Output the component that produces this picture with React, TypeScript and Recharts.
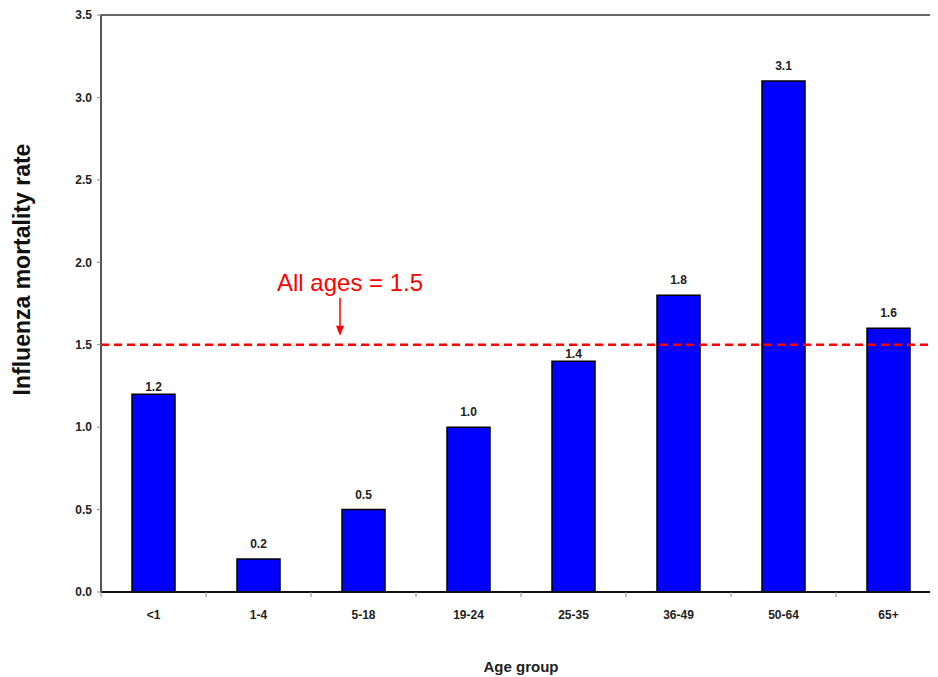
import React from 'react';
import { BarChart, Bar, XAxis, YAxis, ReferenceLine, LabelList } from 'recharts';

const ageGroups = ['<1', '1-4', '5-18', '19-24', '25-35', '36-49', '50-64', '65+'];
const mortalityRates = [1.2, 0.2, 0.5, 1.0, 1.4, 1.8, 3.1, 1.6];
const yTicks = [0, 0.5, 1, 1.5, 2, 2.5, 3, 3.5];
const allAgesRate = 1.5;
const allAgesLabel = 'All ages = 1.5';
const yAxisTitle = 'Influenza mortality rate';
const xAxisTitle = 'Age group';

// gap (px) between bar top and its value label, as seen in the original
const labelGaps = [3, 11, 11, 11, 3, 11, 11, 11];

const data = ageGroups.map((g, i) => ({ group: g, rate: mortalityRates[i] }));

const FONT = '"Liberation Sans", Arial, sans-serif';
const X_TICK_SIZE = 5;
const X_TICK_MARGIN = 13;

const XTick = (props: any) => {
  const { x, y, payload } = props;
  const off = payload && payload.offset ? payload.offset : 0;
  const axisY = y - X_TICK_SIZE - X_TICK_MARGIN;
  return (
    <g>
      <line x1={x - off} x2={x - off} y1={axisY} y2={axisY + X_TICK_SIZE} stroke="#888" strokeWidth={1} />
      <text x={x} y={y} dy="0.71em" textAnchor="middle" fontFamily={FONT} fontWeight="bold" fontSize={12} fill="#222">
        {payload.value}
      </text>
    </g>
  );
};

const ValueLabel = (props: any) => {
  const { x, y, width, value, index } = props;
  const gap = labelGaps[index] ?? 11;
  return (
    <text
      x={Number(x) + Number(width) / 2}
      y={Number(y) - gap}
      textAnchor="middle"
      fontFamily={FONT}
      fontWeight="bold"
      fontSize={12}
      fill="#222"
    >
      {Number(value).toFixed(1)}
    </text>
  );
};

const AllAgesLabel = (props: any) => {
  const vb = props.viewBox || { x: 0, y: 0 };
  const lx = vb.x;
  const ly = vb.y;
  const ax = lx + 239;
  return (
    <g>
      <text x={lx + 176} y={ly - 54} fontFamily={FONT} fontSize={24} fill="#FF0000">
        {allAgesLabel}
      </text>
      <line x1={ax} x2={ax} y1={ly - 47} y2={ly - 18} stroke="#FF0000" strokeWidth={1.5} />
      <path d={`M ${ax - 4} ${ly - 19} L ${ax + 4} ${ly - 19} L ${ax} ${ly - 9} Z`} fill="#FF0000" />
    </g>
  );
};

const YTitle = (props: any) => {
  const vb = props.viewBox || { x: 0, y: 0, height: 0 };
  const cx = vb.x + 14;
  const cy = vb.y + vb.height / 2 - 34;
  return (
    <text
      x={cx}
      y={cy}
      transform={`rotate(-90 ${cx} ${cy})`}
      textAnchor="middle"
      dominantBaseline="central"
      fontFamily={FONT}
      fontWeight="bold"
      fontSize={23}
      fill="#111"
    >
      {yAxisTitle}
    </text>
  );
};

export default function App() {
  return (
    <div style={{ width: 930, height: 669, overflow: 'hidden', background: '#fff' }}>
      <style>{'html,body{overflow:hidden}'}</style>
      <BarChart
        width={945}
        height={669}
        data={data}
        margin={{ top: 7, right: 12, bottom: 0, left: 0 }}
        barCategoryGap={0}
      >
        <XAxis
          dataKey="group"
          height={85}
          axisLine={{ stroke: '#111', strokeWidth: 2 }}
          tickLine={false}
          tickSize={X_TICK_SIZE}
          tickMargin={X_TICK_MARGIN}
          tick={<XTick />}
          interval={0}
          label={{
            value: xAxisTitle,
            position: 'insideBottom',
            offset: 5,
            style: { fontFamily: FONT, fontWeight: 'bold', fontSize: 15, fill: '#222' },
          }}
        />
        <YAxis
          width={93}
          domain={[0, 3.5]}
          ticks={yTicks}
          interval={0}
          tickFormatter={(v: number) => v.toFixed(1)}
          axisLine={{ stroke: '#555', strokeWidth: 2 }}
          tickLine={{ stroke: '#888' }}
          tickSize={4}
          tickMargin={5}
          tick={{ fontFamily: FONT, fontWeight: 'bold', fontSize: 12, fill: '#222' }}
          label={<YTitle />}
        />
        <ReferenceLine y={3.5} stroke="#666" strokeWidth={2} ifOverflow="visible" />
        <Bar dataKey="rate" fill="#0000FF" stroke="#000" strokeWidth={1.5} barSize={43} isAnimationActive={false}>
          <LabelList dataKey="rate" content={<ValueLabel />} />
        </Bar>
        <ReferenceLine
          y={allAgesRate}
          stroke="#FF0000"
          strokeWidth={2.5}
          strokeDasharray="8 5"
          label={<AllAgesLabel />}
        />
      </BarChart>
    </div>
  );
}
